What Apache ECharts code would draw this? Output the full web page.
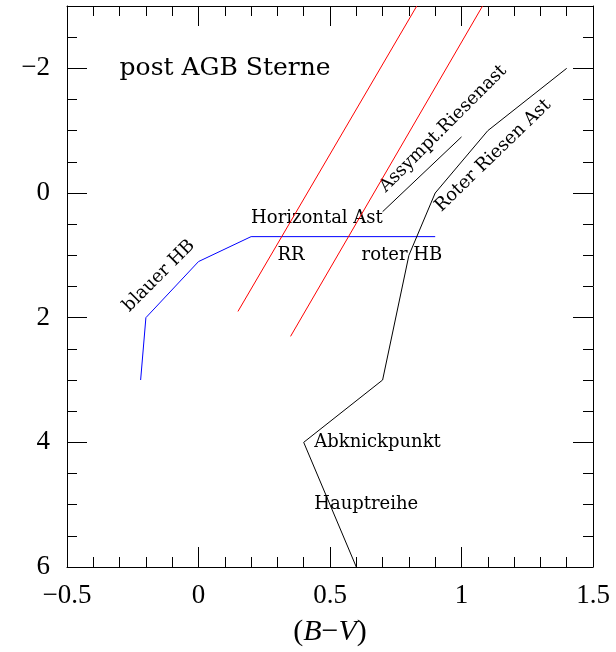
<!DOCTYPE html>
<html>
<head>
<meta charset="utf-8">
<script src="https://cdn.jsdelivr.net/npm/echarts@6/dist/echarts.min.js"></script>
<style>
  html, body { margin: 0; padding: 0; background: #fff; }
  #box { width: 616px; height: 652px; }
</style>
</head>
<body>
<div id="box"></div>
<script>
//%% data: [B-V, M_V]
let blueHB = [[-0.22, 3.0], [-0.2, 2.0], [0, 1.1], [0.2, 0.7], [0.9, 0.7]];
let rrLeft = [[0.15, 1.9], [0.83, -3.0]];
let rrRight = [[0.35, 2.3], [1.08, -3.0]];
let agbBranch = [[0.7, 0.3], [1.0, -0.9]];
let mainBranch = [[0.6, 6], [0.4, 4], [0.7, 3], [0.8, 1], [0.9, 0], [1.1, -1], [1.4, -2]];

let xTicks = [-0.5, 0, 0.5, 1, 1.5];
let yTicks = [-2, 0, 2, 4, 6];

//%% annotations
let noteText = ["post AGB Sterne", "Horizontal Ast", "RR", "roter HB", "Abknickpunkt", "Hauptreihe",
  "blauer HB", "Assympt.Riesenast", "Roter Riesen Ast"];
let notePos = [[-0.3, -2.0], [0.2, 0.4], [0.3, 1.0], [0.62, 1.0], [0.44, 4.0], [0.44, 5.0],
  [-0.15, 1.33], [0.93, -1.03], [1.12, -0.6]];
let noteRot = [0, 0, 0, 0, 0, 0, 45, 45, 44];
let noteSize = [25, 18, 18, 18, 18, 18, 18, 18, 18];

let numFont = "Liberation Serif";
let txtFont = "DejaVu Serif";

function minus(v) {
  return v < 0 ? "\u2212" + Math.abs(v) : String(v);
}

let chart = echarts.init(document.getElementById("box"), null, { renderer: "canvas" });

let tickLine = { color: "#000", width: 1 };

function xAxisCfg(pos, labels) {
  return {
    type: "value", position: pos, min: -0.5, max: 1.5, interval: 0.5,
    axisLine: { show: true, onZero: false, lineStyle: tickLine },
    axisTick: { show: true, inside: true, length: 20, lineStyle: tickLine },
    minorTick: { show: true, splitNumber: 5, length: 10, lineStyle: tickLine },
    splitLine: { show: false },
    axisLabel: {
      show: labels, margin: 15, color: "#000", fontFamily: numFont, fontSize: 27,
      formatter: minus
    }
  };
}

function yAxisCfg(pos, major, labels) {
  let a = {
    type: "value", position: pos, inverse: true, min: -3, max: 6, interval: 0.5,
    axisLine: { show: !major, onZero: false, lineStyle: tickLine },
    axisTick: { show: true, inside: true, length: major ? 20 : 10, lineStyle: tickLine },
    splitLine: { show: false },
    axisLabel: {
      show: labels, margin: 17, color: "#000", fontFamily: numFont, fontSize: 27,
      formatter: minus
    }
  };
  if (major) {
    a.axisTick.customValues = yTicks;
    a.axisLabel.customValues = yTicks;
  }
  return a;
}

function line(data, color) {
  return {
    type: "line", data: data, showSymbol: false, symbol: "none", silent: true,
    lineStyle: { color: color, width: 1 }, animation: false
  };
}

let notes = noteText.map((t, i) => ({
  value: notePos[i],
  label: {
    show: true, formatter: t, position: "inside",
    align: noteRot[i] ? "center" : "left", verticalAlign: "middle",
    rotate: noteRot[i], fontSize: noteSize[i],
    color: "#000", opacity: 1, fontFamily: txtFont
  }
}));

let option = {
  animation: false,
  grid: { left: 67, right: 23, top: 6, bottom: 85, outerBoundsMode: "none" },
  xAxis: [
    Object.assign(xAxisCfg("bottom", true), {
      name: "{p|(}{i|B}{p|\u2212}{i|V}{p|)}",
      nameLocation: "middle", nameGap: 50,
      nameTextStyle: {
        rich: {
          p: { fontFamily: numFont, fontSize: 30, color: "#000" },
          i: { fontFamily: numFont, fontSize: 30, fontStyle: "italic", color: "#000" }
        }
      }
    }),
    xAxisCfg("top", false)
  ],
  yAxis: [
    yAxisCfg("left", false, false),
    yAxisCfg("left", true, true),
    yAxisCfg("right", false, false),
    yAxisCfg("right", true, false)
  ],
  series: [
    line(blueHB, "#0000ff"),
    line(rrLeft, "#ff0000"),
    line(rrRight, "#ff0000"),
    line(agbBranch, "#000"),
    line(mainBranch, "#000"),
    {
      type: "scatter", data: notes, symbolSize: 0, silent: true,
      itemStyle: { opacity: 1 },
      label: { color: "#000", fontFamily: txtFont }
    }
  ]
};

chart.setOption(option);
</script>
</body>
</html>
